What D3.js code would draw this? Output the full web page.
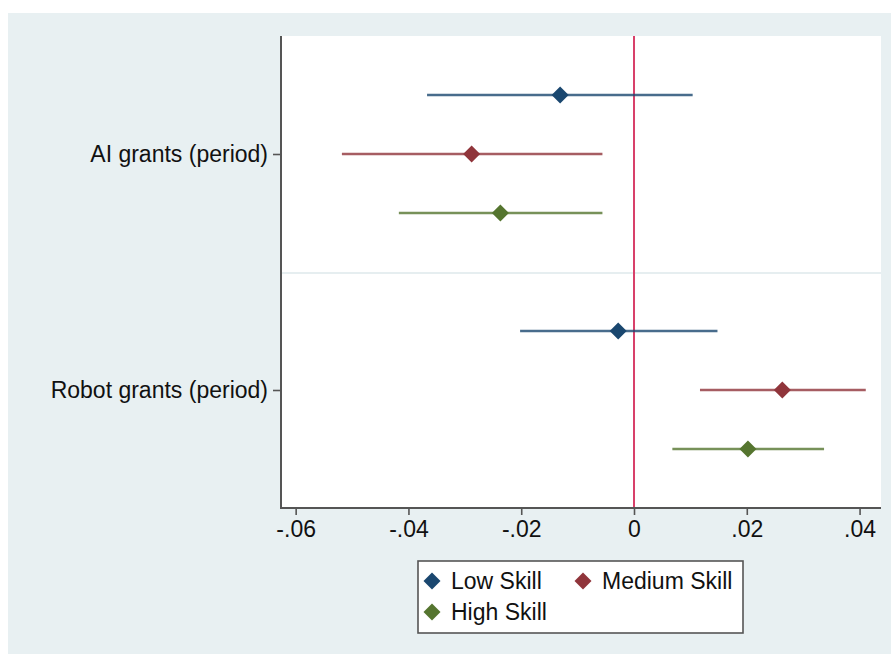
<!DOCTYPE html>
<html>
<head>
<meta charset="utf-8">
<script src="https://cdn.jsdelivr.net/npm/d3@7"></script>
<style>
  html, body { margin: 0; padding: 0; background: #ffffff; }
  svg { display: block; }
  text { font-family: Arial, "Liberation Sans", sans-serif; fill: #111; }
</style>
</head>
<body>
<svg id="chart" width="891" height="654"></svg>
<script>
// ---- Data ----
const categories = ["AI grants (period)", "Robot grants (period)"];
const seriesNames = ["Low Skill", "Medium Skill", "High Skill"];
const seriesColors = ["#1a476f", "#90353b", "#55752f"];
// point estimates per category, per series
const estimates = [
  [-0.0131, -0.0288, -0.0237],
  [-0.0028, 0.0263, 0.0202]
];
const lowerCI = [
  [-0.0367, -0.0518, -0.0417],
  [-0.0202, 0.0117, 0.0068]
];
const upperCI = [
  [0.0104, -0.0056, -0.0056],
  [0.0148, 0.0411, 0.0337]
];
const xTicks = [-0.06, -0.04, -0.02, 0, 0.02, 0.04];
const xTickLabels = ["-.06", "-.04", "-.02", "0", ".02", ".04"];

// ---- Layout ----
const svg = d3.select("#chart");
const plot = { left: 281, right: 881, top: 36, bottom: 508 };

// background
svg.append("rect").attr("x", 8).attr("y", 13).attr("width", 883).attr("height", 641)
  .attr("fill", "#e8f0f2");
svg.append("rect").attr("x", plot.left).attr("y", plot.top)
  .attr("width", plot.right - plot.left).attr("height", plot.bottom - plot.top)
  .attr("fill", "#ffffff");

const x = d3.scaleLinear().domain([-0.0626, 0.0438]).range([plot.left, plot.right]);
// slots: rows of each category (3 series) with gap slot between categories
const y = d3.scaleLinear().domain([0, 8]).range([plot.top, plot.bottom]);
const rowIndex = (ci, si) => ci * 4 + 1 + si;
const catCenter = ci => ci * 4 + 2;

// separator between groups
svg.append("line")
  .attr("x1", plot.left).attr("x2", plot.right)
  .attr("y1", y(4) + 1).attr("y2", y(4) + 1)
  .attr("stroke", "#e6eef0").attr("stroke-width", 2);

// zero reference line
svg.append("line")
  .attr("x1", x(0)).attr("x2", x(0))
  .attr("y1", plot.top).attr("y2", plot.bottom)
  .attr("stroke", "#d8406a").attr("stroke-width", 2);

// x axis
const xAxis = d3.axisBottom(x).tickValues(xTicks)
  .tickFormat((d, i) => xTickLabels[i]).tickSize(7).tickPadding(6).tickSizeOuter(0);
const gx = svg.append("g").attr("transform", `translate(0,${plot.bottom})`).call(xAxis);
gx.select(".domain").remove();
gx.selectAll(".tick line").attr("stroke", "#555").attr("stroke-width", 1.6);
gx.selectAll(".tick text").attr("font-size", 23)
  .attr("font-family", "Arial, 'Liberation Sans', sans-serif").attr("fill", "#111");

// y axis (categories)
const yAxis = d3.axisLeft(y).tickValues(categories.map((c, i) => catCenter(i)))
  .tickFormat((d, i) => categories[i]).tickSize(8).tickPadding(5).tickSizeOuter(0);
const gy = svg.append("g").attr("transform", `translate(${plot.left},0)`).call(yAxis);
gy.select(".domain").remove();
gy.selectAll(".tick line").attr("stroke", "#555").attr("stroke-width", 1.6);
gy.selectAll(".tick text").attr("font-size", 23)
  .attr("font-family", "Arial, 'Liberation Sans', sans-serif").attr("fill", "#111");

// axis lines
svg.append("line").attr("x1", plot.left).attr("x2", plot.left)
  .attr("y1", plot.top).attr("y2", plot.bottom + 1)
  .attr("stroke", "#555").attr("stroke-width", 2);
svg.append("line").attr("x1", plot.left).attr("x2", plot.right)
  .attr("y1", plot.bottom).attr("y2", plot.bottom)
  .attr("stroke", "#555").attr("stroke-width", 2);

// diamond path
const diamond = r => `M0,${-r}L${r},0L0,${r}L${-r},0Z`;

// CI lines and markers
categories.forEach((cat, ci) => {
  seriesNames.forEach((s, si) => {
    const yy = y(rowIndex(ci, si));
    svg.append("line")
      .attr("x1", x(lowerCI[ci][si])).attr("x2", x(upperCI[ci][si]))
      .attr("y1", yy).attr("y2", yy)
      .attr("stroke", seriesColors[si]).attr("stroke-opacity", 0.8)
      .attr("stroke-width", 2.5);
  });
});
categories.forEach((cat, ci) => {
  seriesNames.forEach((s, si) => {
    const yy = y(rowIndex(ci, si));
    svg.append("path")
      .attr("d", diamond(8.5))
      .attr("transform", `translate(${x(estimates[ci][si])},${yy})`)
      .attr("fill", seriesColors[si]);
  });
});

// legend
const lg = svg.append("g");
lg.append("rect").attr("x", 418).attr("y", 561).attr("width", 325).attr("height", 72)
  .attr("fill", "#fff").attr("stroke", "#555").attr("stroke-width", 1.6);
const legendPos = [[432, 581], [583, 581], [432, 612]];
seriesNames.forEach((s, si) => {
  const [lx, ly] = legendPos[si];
  lg.append("path").attr("d", diamond(8.5))
    .attr("transform", `translate(${lx},${ly})`).attr("fill", seriesColors[si]);
  lg.append("text").attr("x", lx + 19).attr("y", ly + 8)
    .attr("font-size", 23).text(s);
});
</script>
</body>
</html>
